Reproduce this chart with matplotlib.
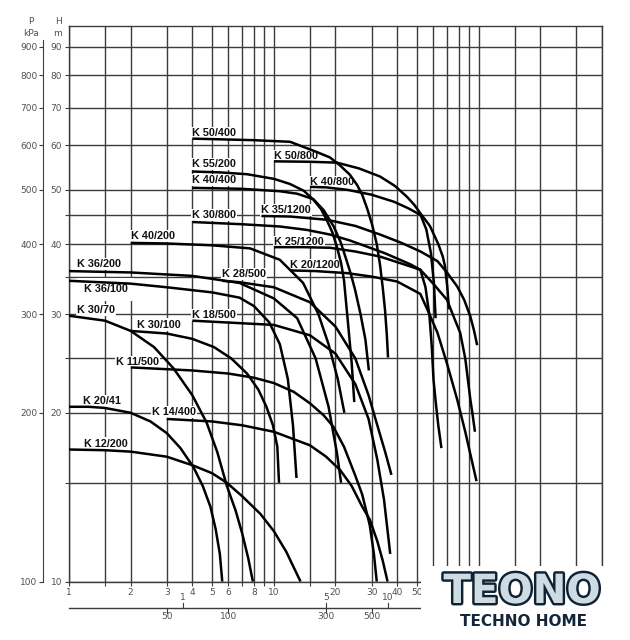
import matplotlib
matplotlib.use('Agg')
import matplotlib.pyplot as plt
import matplotlib.patheffects as pe
from matplotlib.transforms import blended_transform_factory

# ---------------- data ----------------
x_grid = [1, 1.5, 2, 3, 4, 5, 6, 7, 8, 9, 10, 15, 20, 30, 40, 50, 60, 70, 80, 90,
          100, 150, 200, 300, 400]
x_labels = {1: '1', 2: '2', 3: '3', 4: '4', 5: '5', 6: '6', 8: '8', 10: '10',
            20: '20', 30: '30', 40: '40', 50: '50'}
y_grid = [10, 15, 20, 25, 30, 35, 40, 45, 50, 60, 70, 80, 90]
y_labels = {10: '10', 20: '20', 30: '30', 40: '40', 50: '50', 60: '60',
            70: '70', 80: '80', 90: '90'}
p_ticks = [100, 200, 300, 400, 500, 600, 700, 800, 900]
ls_ticks = [1, 5, 10]            # l/s
lpm_ticks = [50, 100, 300, 500]  # l/min

k50_400_q = [4, 8, 12, 16, 18.8, 21, 23.5, 25.5, 27, 28.6, 30.2, 31.8, 33, 34, 34.9, 35.6, 36.1]
k50_400_h = [61.7, 61.3, 60.9, 58.5, 57.1, 55.3, 53.2, 51, 49, 46.2, 43.3, 40, 36.7, 33.5, 30.5, 27.6, 25.1]
k50_800_q = [10, 15, 20.3, 26, 33, 39, 44.6, 48.5, 51.9, 57.8, 63.5, 66.8, 68.5, 70.3, 71.6]
k50_800_h = [56.2, 56.1, 55.9, 54.6, 52.8, 50.8, 48.6, 47, 45.4, 43.1, 40, 38, 36.5, 33.5, 30.6]
k55_200_q = [4, 5.5, 7.4, 10, 12, 14, 15.6, 17, 18.1, 19.3, 20.3, 21.3, 22, 23, 24, 24.7]
k55_200_h = [53.9, 53.7, 53.3, 52.3, 51.2, 49.8, 48, 46.2, 44.2, 42, 39.6, 37, 34.5, 29, 24.5, 20.9]
k40_400_q = [4, 7, 10.7, 13, 15.6, 17.5, 19.6, 21.2, 22.6, 23.8, 24.9, 26.5, 28, 29.1]
k40_400_h = [50.4, 50.2, 49.7, 49.2, 48.1, 46, 43, 40.3, 37.5, 35.3, 33.2, 30, 27, 23.8]
k40_800_q = [15, 18, 22.8, 30, 38.6, 45, 52, 55.5, 58.5, 60.5, 61.6]
k40_800_h = [50.6, 50.5, 50, 49, 47.6, 46.4, 45.1, 42.5, 38.5, 34, 29.5]
k30_800_q = [4, 7, 10.7, 14.5, 18.8, 23.5, 28.4, 35, 41.3, 46.5, 51.9, 55, 57.5, 59, 60.2, 61.8, 63.5, 65.8]
k30_800_h = [43.8, 43.4, 43, 42.4, 41.6, 40.6, 39.6, 38.5, 37.5, 36.8, 36, 33.5, 29.8, 26.3, 22.9, 20.8, 19, 17.3]
k35_1200_q = [8.7, 12, 18.2, 25, 33, 42, 52, 62.9, 70, 78.6, 85, 91.1, 95, 98.3]
k35_1200_h = [44.9, 44.8, 44.2, 43.1, 41.6, 40.2, 38.8, 37.3, 35.6, 33.6, 31.8, 29.7, 28, 26.4]
k40_200_q = [2, 3, 5, 7.66, 10.7, 13.9, 16.5, 18.5, 20.5, 22.1]
k40_200_h = [40.2, 40.1, 39.8, 39.3, 37.5, 34.1, 30, 26.5, 23, 20]
k25_1200_q = [10, 14, 18.8, 25, 33, 41.3, 51.9, 60, 70.1, 76, 81.2, 86, 91.1, 93.5, 95.9]
k25_1200_h = [39.5, 39.5, 39.4, 38.8, 38, 37, 36, 34, 31.8, 29.5, 27.8, 25, 21.1, 19.8, 18.5]
k20_1200_q = [12, 16, 22.8, 30, 40, 51.9, 57, 62.9, 70, 78.6, 86, 92, 97.6]
k20_1200_h = [35.9, 35.8, 35.5, 35, 34.3, 32.6, 30.2, 27.8, 24.5, 21.1, 18.5, 16.6, 15.1]
k36_200_q = [1, 2, 4, 6.8, 10, 13, 16, 18.5, 20.3, 21.3]
k36_200_h = [35.8, 35.6, 35.1, 34.1, 32, 29.5, 25, 20.5, 17, 15]
k36_100_q = [1, 2, 3, 5, 6.8, 8, 9.5, 10.7, 11.7, 12.4, 12.9]
k36_100_h = [34.4, 34, 33.5, 32.8, 32.1, 31, 29, 26.5, 23, 19, 15.3]
k28_500_q = [5.6, 6.8, 10, 15, 20, 25, 29, 32, 35, 37.5]
k28_500_h = [34.4, 34.2, 33.5, 31.5, 28.5, 25, 21.5, 19, 17, 15.5]
k30_70_q = [1, 1.5, 2, 2.6, 3.24, 4, 4.7, 5.3, 5.9, 6.5, 7, 7.5, 7.9]
k30_70_h = [29.8, 29.2, 28, 26.2, 24, 21.5, 19.2, 17, 14.8, 13.4, 12.2, 11, 10]
k30_100_q = [2, 3, 4, 5.1, 6.2, 7.4, 8.4, 9.2, 9.9, 10.4, 10.6]
k30_100_h = [28, 27.7, 27.1, 26.2, 25, 23.5, 22, 20.5, 19, 17.4, 15]
k18_500_q = [4, 10, 15, 20, 25, 29, 32, 34.5, 37]
k18_500_h = [29.2, 28.7, 27.5, 25.5, 22.5, 19.5, 16.5, 14, 11.2]
k11_500_q = [2, 4, 6, 8, 10, 12.5, 15, 17.5, 19.5, 22, 24.9, 27, 29.4, 30.8, 31.8]
k11_500_h = [24.1, 23.8, 23.5, 23.1, 22.6, 21.8, 20.8, 19.8, 18.9, 17.4, 15.5, 14.3, 12.6, 11.2, 10]
k20_41_q = [1, 1.25, 1.5, 2, 2.5, 3, 3.5, 4.05, 4.5, 4.9, 5.2, 5.45, 5.6]
k20_41_h = [20.5, 20.5, 20.4, 20, 19.3, 18.4, 17.3, 16, 14.8, 13.6, 12.4, 11.2, 10]
k14_400_q = [3, 5, 7, 10, 15, 18, 21.1, 24, 27, 29.4, 32, 34, 35.9]
k14_400_h = [19.5, 19.3, 19, 18.5, 17.5, 16.7, 15.8, 14.8, 13.6, 12.9, 11.8, 10.9, 10]
k12_200_q = [1, 1.5, 2, 3, 4.05, 5, 5.9, 7, 8.6, 10, 11.5, 12.5, 13.5]
k12_200_h = [17.2, 17.15, 17.05, 16.7, 16.1, 15.6, 15, 14.2, 13.2, 12.3, 11.3, 10.6, 10]

curves = [
    ('K 50/400', k50_400_q, k50_400_h, (0, 6), 0.1),
    ('K 50/800', k50_800_q, k50_800_h, (0, 5), 0.1),
    ('K 55/200', k55_200_q, k55_200_h, (0, 7.5), 0.1),
    ('K 40/400', k40_400_q, k40_400_h, (0, 8), 0.1),
    ('K 40/800', k40_800_q, k40_800_h, (0, 5), 0.1),
    ('K 30/800', k30_800_q, k30_800_h, (0, 7), 0.1),
    ('K 35/1200', k35_1200_q, k35_1200_h, (0, 6), 0.1),
    ('K 40/200', k40_200_q, k40_200_h, (0, 6.5), 0.1),
    ('K 25/1200', k25_1200_q, k25_1200_h, (0, 5.3), 0.1),
    ('K 20/1200', k20_1200_q, k20_1200_h, (0, 5.4), 0.1),
    ('K 36/200', k36_200_q, k36_200_h, (8.4, 7), 0.1),
    ('K 36/100', k36_100_q, k36_100_h, (14.7, -8.6), 0.6),
    ('K 28/500', k28_500_q, k28_500_h, (0, 7), 0.1),
    ('K 30/70', k30_70_q, k30_70_h, (8.3, 5.7), 0.1),
    ('K 30/100', k30_100_q, k30_100_h, (6.7, 6.4), 0.1),
    ('K 18/500', k18_500_q, k18_500_h, (0, 5.7), 0.1),
    ('K 11/500', k11_500_q, k11_500_h, (-15, 5.7), 0.1),
    ('K 20/41', k20_41_q, k20_41_h, (14.3, 6), 0.1),
    ('K 14/400', k14_400_q, k14_400_h, (-14.4, 6.6), 0.1),
    ('K 12/200', k12_200_q, k12_200_h, (15, 6), 0.1),
]

# ---------------- figure ----------------
W, H = 630, 640
fig = plt.figure(figsize=(W / 100, H / 100), dpi=100)
L, R, B, T = 69, 602, 581.5, 26
ax = fig.add_axes([L / W, 1 - B / H, (R - L) / W, (B - T) / H])
ax.set_xscale('log')
ax.set_yscale('log')
ax.set_xlim(1, 400)
ax.set_ylim(10, 98)

gcol = '#3c3c3c'
for xv in x_grid:
    ax.axvline(xv, color=gcol, lw=1.0, zorder=1)
for yv in y_grid:
    ax.axhline(yv, color=gcol, lw=1.0, zorder=1)
for s in ax.spines.values():
    s.set_color(gcol)
    s.set_linewidth(1.0)

tick_font = dict(family='DejaVu Sans', size=6.5, color='#505050')
ax.set_xticks(x_grid)
ax.set_xticklabels([x_labels.get(v, '') for v in x_grid], **tick_font)
ax.set_yticks(y_grid)
ax.set_yticklabels([y_labels.get(v, '') for v in y_grid], **tick_font)
ax.minorticks_off()
ax.tick_params(axis='both', length=3, width=0.8, color=gcol, pad=2)

# pressure axis
pax = ax.secondary_yaxis(-(L - 43) / (R - L), functions=(lambda h: h * 10, lambda p: p / 10))
pax.set_yticks(p_ticks)
pax.set_yticklabels([str(p) for p in p_ticks], **tick_font)
pax.minorticks_off()
pax.tick_params(length=3, width=0.8, color=gcol, pad=1)
pax.spines['left'].set_color(gcol)
pax.spines['left'].set_bounds(100, 926)

fig.text(31 / W, 1 - 21 / H, 'P', ha='center', va='center', **tick_font)
fig.text(31 / W, 1 - 33 / H, 'kPa', ha='center', va='center', **tick_font)
fig.text(58 / W, 1 - 21 / H, 'H', ha='center', va='center', **tick_font)
fig.text(57 / W, 1 - 33 / H, 'm', ha='center', va='center', **tick_font)

# secondary flow scales (l/s above, l/min below)
tr = blended_transform_factory(ax.transData, ax.transAxes)
yline = -(608 - B) / (B - T)
tk = 5 / (B - T)
ax.plot([1, 400], [yline, yline], color=gcol, lw=1.0, transform=tr, clip_on=False)
for v in ls_ticks:
    q = v * 3.6
    ax.plot([q, q], [yline, yline + tk], color=gcol, lw=0.8, transform=tr, clip_on=False)
    ax.text(q, yline + tk + 0.002, str(v), transform=tr, ha='center', va='bottom', **tick_font)
for v in lpm_ticks:
    q = v * 0.06
    ax.plot([q, q], [yline, yline - tk], color=gcol, lw=0.8, transform=tr, clip_on=False)
    ax.text(q, yline - tk + 0.001, str(v), transform=tr, ha='center', va='top', **tick_font)

# curves
for name, q, h, off, pad in curves:
    ax.plot(q, h, color='black', lw=1.8, solid_capstyle='butt', solid_joinstyle='round', zorder=3)
    ax.annotate(name, xy=(q[0], h[0]), xytext=off, textcoords='offset pixels',
                ha='left', va='center', fontsize=7.8, fontweight='bold',
                family='Liberation Sans', color='#111111', zorder=2,
                bbox=dict(boxstyle='square,pad=%s' % pad, fc='white', ec='none'))

# logo watermark
fig.patches.append(plt.Rectangle((421 / W, 0), 1 - 421 / W, 1 - 566 / H,
                                 transform=fig.transFigure, fc='white', ec='none', zorder=10))
fig.text(522 / W, 1 - 592 / H, 'TEONO', ha='center', va='center', fontsize=29,
         fontweight='heavy', family='DejaVu Sans', color='#cfdbe3', zorder=11,
         path_effects=[pe.Stroke(linewidth=3.5, foreground='#0f2233'), pe.Normal()])
fig.text(523 / W, 1 - 622 / H, 'TECHNO HOME', ha='center', va='center', fontsize=11,
         fontweight='bold', family='DejaVu Sans', color='#13263a', zorder=11)

fig.savefig('out.png', dpi=100, facecolor='white')
